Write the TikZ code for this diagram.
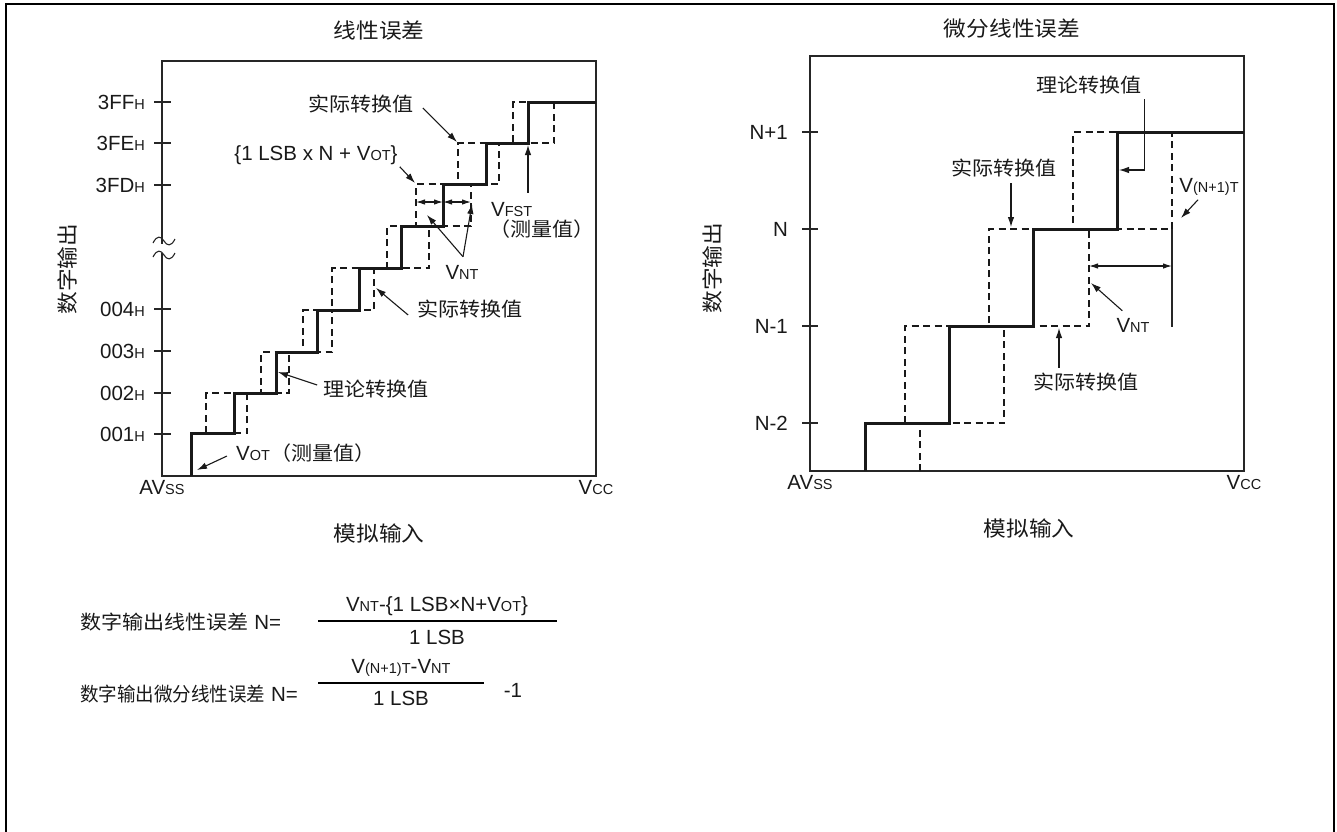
\documentclass[tikz,border=0pt]{standalone}
\usepackage{fontspec}
\setmainfont{Liberation Sans}
\newfontfamily\cjk{Noto Sans CJK SC}[FakeStretch=1.08]
\newfontfamily\cjknarrow{Noto Sans CJK SC}[FakeStretch=0.95]
\usetikzlibrary{arrows.meta, positioning, calc}
% small letters sitting on the baseline (3FF_H, V_OT, AV_SS ...)
\newcommand\sm[1]{{\fontsize{14.5}{15}\selectfont #1}}

\tikzset{
    boxline/.style  = {line width=1.1pt, black!85},
    ideal/.style    = {line width=3pt, black!90},
    actual/.style   = {line width=2.4pt, black!90, dash pattern=on 7pt off 4.5pt},
    tickmark/.style = {line width=1.1pt, black!85},
    txt/.style      = {inner sep=0pt, font=\fontsize{20.5}{22}\selectfont, black!90},
    zh/.style       = {txt, font=\cjk\fontsize{19.5}{21}\selectfont},
    zhbig/.style    = {txt, font=\cjk\fontsize{21}{23}\selectfont},
    pointer/.style  = {line width=1.1pt, black!90, -{Latex[length=10pt, width=6.5pt]}},
    vntspan/.style  = {line width=1.1pt, black!90, {Latex[length=9pt, width=5.5pt]}-{Latex[length=9pt, width=5.5pt]}},
}

\begin{document}
\begin{tikzpicture}[x=1pt, y=-1pt]
    \useasboundingbox (0,0) rectangle (1337,831);
    % outer frame, cut by the page at the bottom
    \draw[line width=2.5pt] (6,840) |- (1334,4) -- (1334,840);

    % ---------------- left: linear error ----------------
    \node[zhbig] (ttlL) at (379,31) {线性误差};
    \draw[boxline] (162,61) rectangle (596,476);
    % axis break
    \fill[white] (156,244) rectangle (171,253);
    \draw[boxline] (153,243) .. controls (157,235) and (161,236) .. (164,241) .. controls (167,246) and (171,247) .. (175,239);
    \draw[boxline] (153,257) .. controls (157,249) and (161,250) .. (164,255) .. controls (167,260) and (171,261) .. (175,253);
    \foreach \y/\t in {102/3FF, 143/3FE, 185/3FD, 309/004, 351/003, 393/002, 434/001} {
        \draw[tickmark] (154,\y) -- (171,\y);
        \node[txt, anchor=east] (tl\t) at (145,\y) {\t\sm{H}};
    }
    \node[zhbig, rotate=90] (youtL) at (67,269) {数字输出};
    \node[txt] (avssL) at (162,488) {AV\sm{SS}};
    \node[txt] (vccL) at (596,488) {V\sm{CC}};
    \node[zhbig] (xinL) at (379,533) {模拟输入};

    % actual conversion (early / late)
    \draw[actual] (206,433) |- (261,393) |- (303,352) |- (332,310) |- (387,268)
        |- (416,226) |- (458,184) |- (513,143) |- (528,102);
    \draw[actual] (234,433) -| (247,393) -| (289,352) -| (332,310) -| (374,268)
        -| (429,226) -| (471,184) -| (499,143) -| (554,102);
    % ideal conversion
    \draw[ideal] (191,476) |- (234,433) |- (276,393) |- (317,352) |- (359,310)
        |- (401,268) |- (443,226) |- (486,184) |- (528,143) |- (596,102);

    \node[zh] (actTop) at (361,104) {实际转换值};
    \coordinate (pActTop) at (457,142);
    \draw[pointer] (actTop.east) ++(9,4) -- (pActTop);

    \node[txt] (lsbN) at (316,155) {\{1 LSB x N + V\sm{OT}\}};
    \coordinate (pLsbN) at (415,183);
    \draw[pointer] (lsbN.south east) ++(2,2) -- (pLsbN);

    \node[txt, anchor=west] (vfst) at (491,210) {V\sm{FST}};
    \node[zh] (vfstMeas) at (542,229) {（测量值）};
    \coordinate (pFst) at (528,145);
    \draw[pointer, shorten <=10pt] (vfst.north -| pFst) -- (pFst);

    \coordinate (ntE) at (416,202);
    \coordinate (ntM) at (443,202);
    \coordinate (ntL) at (471,202);
    \draw[vntspan] (ntE) -- (ntM);
    \draw[vntspan] (ntM) -- (ntL);
    \node[txt] (vntL) at (462,272) {V\sm{NT}};
    \coordinate (pNtA) at (427,215);
    \coordinate (pNtB) at (472,204);
    \draw[pointer] (vntL.north) ++(1,-8) coordinate (vntTop) -- (pNtA);
    \draw[pointer] (vntTop) -- (pNtB);

    \node[zh] (actMid) at (470,309) {实际转换值};
    \coordinate (pActMid) at (376,288);
    \draw[pointer] (actMid.west) ++(-9,6) -- (pActMid);

    \node[zh] (theoL) at (376,389) {理论转换值};
    \coordinate (pTheoL) at (278,372);
    \draw[pointer] (theoL.west) ++(-6,-4) -- (pTheoL);

    \node[txt, anchor=west] (vot) at (236,453) {V\sm{OT}{\cjk\fontsize{19.5}{21}\selectfont （测量值）}};
    \coordinate (pVot) at (197,470);
    \draw[pointer] (vot.west) ++(-9,3) -- (pVot);

    % ---------------- right: differential linear error ----------------
    \node[zhbig] (ttlR) at (1012,29) {微分线性误差};
    \draw[boxline] (810,56) rectangle (1244,471);
    \foreach \y/\t [count=\i] in {132/N+1, 229/N, 326/N-1, 423/N-2} {
        \draw[tickmark] (802,\y) -- (818,\y);
        \node[txt, anchor=east] (tr\i) at (788,\y) {\t};
    }
    \node[zhbig, rotate=90] (youtR) at (712,268) {数字输出};
    \node[txt] (avssR) at (810,483) {AV\sm{SS}};
    \node[txt] (vccR) at (1244,483) {V\sm{CC}};
    \node[zhbig] (xinR) at (1029,528) {模拟输入};

    \draw[actual] (905,423) |- (989,326) |- (1073,229) |- (1117,132);
    \draw[actual] (920,471) |- (1004,423) |- (1089,326) |- (1172,229) -- (1172,132);
    \draw[ideal] (865,471) |- (949,423) |- (1033,326) |- (1117,229) |- (1244,132);
    \draw[boxline] (1172,229) -- (1172,327);

    \node[zh] (theoR) at (1089,85) {理论转换值};
    \coordinate (pTheoR) at (1119,170);
    \draw[pointer] (theoR.south east) ++(3,5) |- (pTheoR);

    \node[zh] (actR1) at (1004,168) {实际转换值};
    \coordinate (pActR1) at (1011,227);
    \draw[pointer, shorten <=6pt] (actR1.south -| pActR1) -- (pActR1);

    \node[zh] (actR2) at (1086,382) {实际转换值};
    \coordinate (pActR2) at (1059,328);
    \draw[pointer, shorten <=5pt] (actR2.north -| pActR2) -- (pActR2);

    \coordinate (ntR1) at (1089,266);
    \coordinate (ntR2) at (1172,266);
    \draw[vntspan] (ntR1) -- (ntR2);
    \node[txt] (vntR) at (1133,325) {V\sm{NT}};
    \coordinate (pVntR) at (1091,283);
    \draw[pointer] (vntR.north west) ++(6,-7) -- (pVntR);

    \node[txt] (vn1) at (1209,187) {V\sm{(N+1)T}};
    \coordinate (pVn1) at (1181,218);
    \draw[pointer] (vn1.south) ++(-11,4) -- (pVn1);

    % ---------------- formulas ----------------
    \node[txt, anchor=west] (linLbl) at (80,622) {{\cjk\fontsize{19.5}{21}\selectfont 数字输出线性误差} N=};
    \node[txt] (linNum) at (437,606) {V\sm{NT}-\{1 LSB×N+V\sm{OT}\}};
    \draw[line width=1.8pt] (318,621) -- (557,621);
    \node[txt] (linDen) at (437,637) {1 LSB};

    \node[txt, anchor=west] (difLbl) at (80,694) {{\cjknarrow\fontsize{19.5}{21}\selectfont 数字输出微分线性误差} N=};
    \node[txt] (difNum) at (401,668) {V\sm{(N+1)T}-V\sm{NT}};
    \draw[line width=1.8pt] (318,683) -- (484,683);
    \node[txt] (difDen) at (401,698) {1 LSB};
    \node[txt] (difOne) at (513,690) {-1};
\end{tikzpicture}
\end{document}
